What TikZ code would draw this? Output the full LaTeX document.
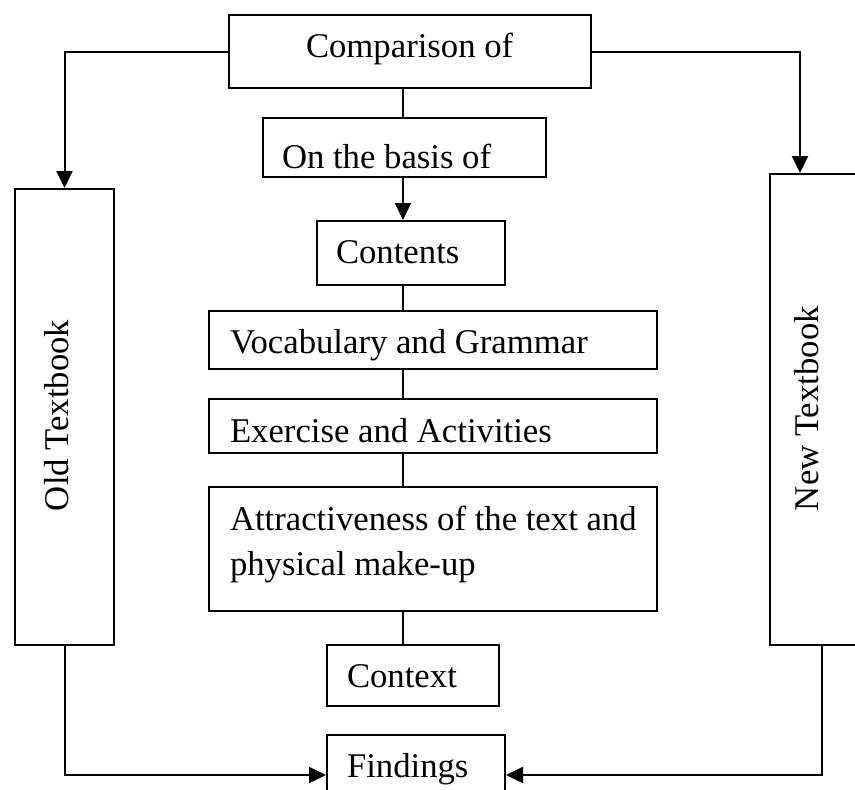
\documentclass[tikz,border=0pt]{standalone}
\usepackage{fontspec}
\setmainfont{Liberation Serif}
\usetikzlibrary{arrows.meta,calc}
\begin{document}
\begin{tikzpicture}[x=1pt,y=-1pt,line width=2pt,
  box/.style={draw,rectangle,inner sep=0pt,anchor=north west},
  lbl/.style={anchor=base west,inner sep=0pt,font=\fontsize{34.7pt}{45pt}\selectfont},
  arr/.style={-{Triangle[length=17pt,width=16pt]}}]
\useasboundingbox (0,0) rectangle (855,790);
\clip (0,0) rectangle (855,790);
% boxes
\node[box,minimum width=362pt,minimum height=73pt] (cmp) at (228,14) {};
\node[box,minimum width=283pt,minimum height=59pt] (basis) at (262,117) {};
\node[box,minimum width=188pt,minimum height=64pt] (cont) at (316,220) {};
\node[box,minimum width=448pt,minimum height=58pt] (voc) at (208,310) {};
\node[box,minimum width=448pt,minimum height=54pt] (exe) at (208,398) {};
\node[box,minimum width=448pt,minimum height=124pt] (attr) at (208,486) {};
\node[box,minimum width=172pt,minimum height=61pt] (ctx) at (326,644) {};
\node[box,minimum width=178pt,minimum height=80pt] (find) at (326,734) {};
\node[box,minimum width=99pt,minimum height=456pt] (old) at (14,188) {};
\node[box,minimum width=99pt,minimum height=471pt] (new) at (769,173) {};
% texts
\node[lbl] (tcmp) at (305,57) {Comparison of};
\node[lbl] (tbasis) at (281,168) {On the basis of};
\node[lbl] (tcont) at (335,263) {Contents};
\node[lbl] (tvoc) at (229,353) {Vocabulary and Grammar};
\node[lbl] (texe) at (229,442) {Exercise and Activities};
\node[lbl] (tattra) at (229,530) {Attractiveness of the text and};
\node[lbl] (tattrb) at (229,575) {physical make-up};
\node[lbl] (tctx) at (346,687) {Context};
\node[lbl] (tfind) at (346,777) {Findings};
\node[lbl,rotate=90] (told) at (68,512) {Old Textbook};
\node[lbl,rotate=90] (tnew) at (818,512) {New Textbook};
% connectors
\coordinate (ax) at (403,0);
\coordinate (rx) at (800,0);
\coordinate (rbx) at (822,0);
\draw (cmp.south -| ax) -- (basis.north -| ax);
\draw[arr] (basis.south -| ax) -- (cont.north -| ax);
\draw (cont.south -| ax) -- (voc.north -| ax);
\draw (voc.south -| ax) -- (exe.north -| ax);
\draw (exe.south -| ax) -- (attr.north -| ax);
\draw (attr.south -| ax) -- (ctx.north -| ax);
\draw[arr] (cmp.west) -| (old.north);
\draw[arr] (cmp.east) -| (new.north -| rx);
\draw[arr] (old.south) |- (find.west);
\draw[arr] (new.south -| rbx) |- (find.east);
\end{tikzpicture}
\end{document}
